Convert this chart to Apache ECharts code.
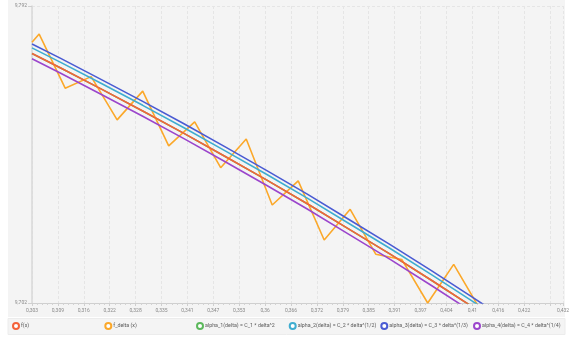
<!DOCTYPE html>
<html>
<head>
<meta charset="utf-8">
<script src="https://cdn.jsdelivr.net/npm/echarts@6/dist/echarts.min.js"></script>
<style>
  html, body { margin: 0; padding: 0; background: #ffffff; }
  #chart { width: 573px; height: 338px; }
</style>
</head>
<body>
<div id="chart"></div>
<script>
// Axis ranges
const X_MIN = 0.30316;
const X_MAX = 0.4319;
const X_STEP = 0.00628;
const Y_MIN = 9.702;
const Y_MAX = 9.792;

// Smooth curves: shared x samples
const xLine = [0.30316, 0.31, 0.32, 0.33, 0.34, 0.35, 0.36, 0.37, 0.38, 0.39, 0.40, 0.41, 0.42];
const fX     = [9.7776, 9.7733, 9.7668, 9.7602, 9.7534, 9.7464, 9.7393, 9.7320, 9.7244, 9.7168, 9.7089, 9.7008, 9.6926];
const alpha1 = [9.7776, 9.7733, 9.7668, 9.7602, 9.7534, 9.7464, 9.7393, 9.7320, 9.7244, 9.7168, 9.7089, 9.7008, 9.6926];
const alpha2 = [9.7793, 9.7750, 9.7685, 9.7619, 9.7551, 9.7481, 9.7410, 9.7337, 9.7261, 9.7185, 9.7106, 9.7025, 9.6943];
const alpha3 = [9.7805, 9.7762, 9.7697, 9.7631, 9.7563, 9.7493, 9.7422, 9.7349, 9.7273, 9.7197, 9.7118, 9.7037, 9.6955];
const alpha4 = [9.7760, 9.7717, 9.7652, 9.7586, 9.7518, 9.7448, 9.7377, 9.7304, 9.7228, 9.7152, 9.7073, 9.6992, 9.6910];

// Perturbed function samples
const xDelta = [0.30316, 0.3049, 0.3112, 0.3175, 0.3238, 0.3300, 0.3363, 0.3426, 0.3489, 0.3551,
                0.3614, 0.3677, 0.3740, 0.3803, 0.3865, 0.3928, 0.3991, 0.4054, 0.4117];
const fDelta = [9.7810, 9.7835, 9.7671, 9.7706, 9.7575, 9.7662, 9.7496, 9.7569, 9.7430, 9.7517,
                9.7317, 9.7390, 9.7211, 9.7304, 9.7168, 9.7152, 9.7020, 9.7137, 9.7003];

const seriesNames = [
  'f(x)',
  'f_delta (x)',
  'alpha_1(delta) = C_1 * delta^2',
  'alpha_2(delta) = C_2 * delta^(1/2)',
  'alpha_3(delta) = C_3 * delta^(1/3)',
  'alpha_4(delta) = C_4 * delta^(1/4)'
];
const seriesColors = ['#f4623a', '#fba82a', '#5cb85c', '#3fadd0', '#4a5bd3', '#9b45cc'];

const pairs = (xs, ys) => xs.map((x, i) => [x, ys[i]]);

// Tick positions along x
const majorTicks = [];
const labelTicks = [];
const minorTicks = [];
for (let k = 0; X_MIN + k * X_STEP < X_MAX - 1e-9; k++) {
  const v = X_MIN + k * X_STEP;
  majorTicks.push(v);
  if (X_MAX - v > X_STEP * 0.6) labelTicks.push(v);
  for (let j = 1; j < 5; j++) {
    const m = v + j * X_STEP / 5;
    if (m < X_MAX - 1e-9) minorTicks.push(m);
  }
}
majorTicks.push(X_MAX);
labelTicks.push(X_MAX);

const fmt = v => Number(v).toFixed(3).replace(/0+$/, '').replace(/\.$/, '').replace('.', ',');

const axisFont = { fontSize: 5, color: '#8a8a8a', fontFamily: 'Roboto' };

const legendCenters = [15, 107.3, 199, 291.7, 383.3, 476];

const chart = echarts.init(document.getElementById('chart'), null, { renderer: 'canvas' });
chart.setOption({
  animation: false,
  backgroundColor: '#ffffff',
  graphic: [
    { type: 'rect', z: -10, shape: { x: 8, y: 0, width: 557, height: 317 }, style: { fill: '#f4f4f4' } },
    { type: 'rect', z: -10, shape: { x: 8, y: 318.5, width: 557, height: 16 }, style: { fill: '#f4f4f4', stroke: '#ececec', lineWidth: 1 } }
  ],
  grid: { left: 32, top: 6, right: 10, bottom: 35, containLabel: false },
  legend: seriesNames.map((name, i) => ({
    data: [name],
    left: legendCenters[i] - 3,
    top: 322,
    icon: 'emptyCircle',
    itemWidth: 6,
    itemHeight: 6,
    padding: 0,
    selectedMode: false,
    itemStyle: { borderWidth: 1 },
    textStyle: { fontSize: 5.3, color: '#5a5a5a', fontFamily: 'Roboto', padding: [0, 0, 0, -3] }
  })),
  xAxis: [
    {
      type: 'value',
      min: X_MIN,
      max: X_MAX,
      axisLine: { show: true, lineStyle: { color: '#cfcfcf', width: 1 } },
      axisTick: { show: true, customValues: majorTicks, length: 3, lineStyle: { color: '#cfcfcf' } },
      axisLabel: { customValues: labelTicks, formatter: fmt, margin: 5, ...axisFont },
      splitLine: { show: true, lineStyle: { color: '#e5e5e5', type: [3, 2], width: 1 } }
    },
    {
      type: 'value',
      min: X_MIN,
      max: X_MAX,
      position: 'bottom',
      axisLine: { show: false },
      axisTick: { show: true, customValues: minorTicks, length: 2, lineStyle: { color: '#d2d2d2' } },
      axisLabel: { show: false },
      splitLine: { show: false }
    }
  ],
  yAxis: {
    type: 'value',
    min: Y_MIN,
    max: Y_MAX,
    axisLine: { show: true, lineStyle: { color: '#d9d9d9', width: 1.5 } },
    axisTick: { show: true, customValues: [Y_MIN, Y_MAX], length: 4, lineStyle: { color: '#cfcfcf' } },
    axisLabel: { customValues: [Y_MIN, Y_MAX], formatter: fmt, margin: 5, ...axisFont },
    splitLine: { show: true, lineStyle: { color: '#e5e5e5', type: [3, 2], width: 1 } }
  },
  series: [
    { name: seriesNames[0], type: 'line', data: pairs(xLine, fX), z: 3 },
    { name: seriesNames[1], type: 'line', data: pairs(xDelta, fDelta), z: 2 },
    { name: seriesNames[2], type: 'line', data: pairs(xLine, alpha1), z: 1 },
    { name: seriesNames[3], type: 'line', data: pairs(xLine, alpha2), z: 3 },
    { name: seriesNames[4], type: 'line', data: pairs(xLine, alpha3), z: 3 },
    { name: seriesNames[5], type: 'line', data: pairs(xLine, alpha4), z: 3 }
  ].map((s, i) => Object.assign(s, {
    color: seriesColors[i],
    showSymbol: false,
    symbol: 'emptyCircle',
    clip: true,
    lineStyle: { width: 1.6, color: seriesColors[i] }
  }))
});
</script>
</body>
</html>
